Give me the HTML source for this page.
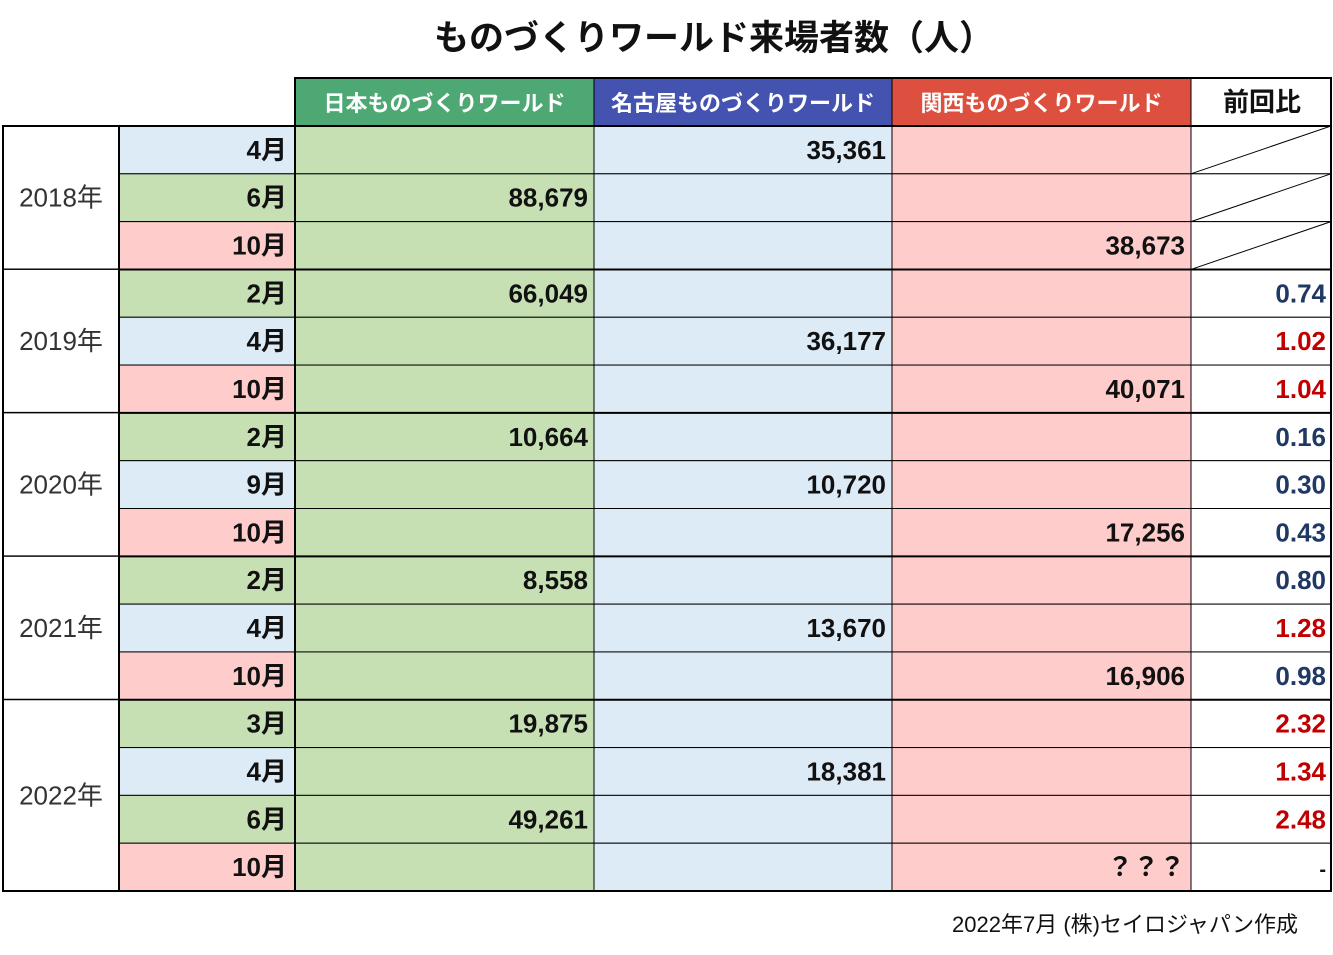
<!DOCTYPE html>
<html><head><meta charset="utf-8">
<style>
body{margin:0;background:#fff;}
svg{display:block;font-family:"Liberation Sans","Noto Sans CJK JP",sans-serif;}
</style></head>
<body>
<svg id="t" width="1333" height="955" viewBox="0 0 1333 955">
<text x="714" y="50" text-anchor="middle" font-size="35" font-weight="bold" fill="#111">ものづくりワールド来場者数（人）</text>
<text x="1298" y="932" text-anchor="end" font-size="22" fill="#111">2022年7月 (株)セイロジャパン作成</text>
</svg>
<script>
const years=["2018年","2019年","2020年","2021年","2022年"];
const yearRows=[3,3,3,3,4];
const months=["4月","6月","10月","2月","4月","10月","2月","9月","10月","2月","4月","10月","3月","4月","6月","10月"];
const eventType=[1,0,2,0,1,2,0,1,2,0,1,2,0,1,0,2];
const visitors=["35,361","88,679","38,673","66,049","36,177","40,071","10,664","10,720","17,256","8,558","13,670","16,906","19,875","18,381","49,261","？？？"];
const ratios=[null,null,null,0.74,1.02,1.04,0.16,0.30,0.43,0.80,1.28,0.98,2.32,1.34,2.48,"-"];
const headers=["日本ものづくりワールド","名古屋ものづくりワールド","関西ものづくりワールド"];

const NS="http://www.w3.org/2000/svg",svgEl=document.getElementById('t');
function mk(tag,a,txt){const e=document.createElementNS(NS,tag);for(const k in a)e.setAttribute(k,a[k]);if(txt!=null)e.textContent=txt;svgEl.appendChild(e);return e;}
const X=[3,119,295,594,892,1191,1331];
const tTop=126,tBot=891,rh=(tBot-tTop)/16,hTop=78;
const light=["#c6e0b4","#ddebf7","#ffcccc"],dark=["#4ea873","#4452b0","#dd4f3e"];
for(let c=0;c<3;c++){
 const r=mk('rect',{x:X[c+2],y:hTop,width:X[c+3]-X[c+2],height:tTop-hTop,fill:dark[c],stroke:"#000","stroke-width":1});
 
 
 const t=mk('text',{x:(X[c+2]+X[c+3])/2,y:111,"text-anchor":"middle","font-size":22,"font-weight":"bold",fill:"#fff"},headers[c]);
 
 
}
const rt=mk('rect',{x:X[5],y:hTop,width:X[6]-X[5],height:tTop-hTop,fill:"#fff",stroke:"#000","stroke-width":1});


const rl=mk('text',{x:1262,y:111,"text-anchor":"middle","font-size":26,"font-weight":"bold",fill:"#111"},"前回比");


for(let i=0;i<16;i++){
 const y=tTop+i*rh,ty=y+rh/2+9;
 const m=mk('rect',{x:X[1],y:y,width:X[2]-X[1],height:rh,fill:light[eventType[i]],stroke:"#000","stroke-width":1});
 
 
 const mt=mk('text',{x:X[2]-8,y:ty,"text-anchor":"end","font-size":26,"font-weight":"bold",fill:"#111"},months[i]);
 
 
 for(let c=0;c<3;c++){
  const r=mk('rect',{x:X[c+2],y:y,width:X[c+3]-X[c+2],height:rh,fill:light[c],stroke:"#000","stroke-width":1});
  
  
 }
 const c=eventType[i];
 const v=mk('text',{x:X[c+3]-6,y:ty,"text-anchor":"end","font-size":26,"font-weight":"bold",fill:"#111"},visitors[i]);
 
 
 const rr=mk('rect',{x:X[5],y:y,width:X[6]-X[5],height:rh,fill:"#fff",stroke:"#000","stroke-width":1});
 
 
 const q=ratios[i];
 if(q===null){
  const d=mk('line',{x1:X[5],y1:y+rh,x2:X[6],y2:y,stroke:"#000","stroke-width":1});
  
  
 }else{
  const s=typeof q==="number"?q.toFixed(2):q;
  const col=typeof q==="number"?(q>1?"#c00000":"#1f3864"):"#111";
  const t=mk('text',{x:X[6]-5,y:ty,"text-anchor":"end","font-size":typeof q==="number"?26:20,"font-weight":"bold",fill:col},s);
  
  
 }
}
let r0=0;
for(let k=0;k<years.length;k++){
 const y=tTop+r0*rh,h=yearRows[k]*rh;
 const b=mk('rect',{x:X[0],y:y,width:X[1]-X[0],height:h,fill:"#fff",stroke:"#000","stroke-width":1});
 
 
 const t=mk('text',{x:(X[0]+X[1])/2,y:y+h/2+9,"text-anchor":"middle","font-size":26,fill:"#333"},years[k]);
 
 
 r0+=yearRows[k];
 if(k<years.length-1){
  const l=mk('line',{x1:X[0],y1:tTop+r0*rh,x2:X[6],y2:tTop+r0*rh,stroke:"#000","stroke-width":2});
  
  
 }
}
const o1=mk('rect',{x:X[0],y:tTop,width:X[6]-X[0],height:tBot-tTop,fill:"none",stroke:"#000","stroke-width":2});


const o2=mk('rect',{x:X[2],y:hTop,width:X[6]-X[2],height:tTop-hTop,fill:"none",stroke:"#000","stroke-width":2});


[X[1],X[2]].forEach(x=>{
 const l=mk('line',{x1:x,y1:tTop,x2:x,y2:tBot,stroke:"#000","stroke-width":2});
 
 
});
</script>
</body></html>
